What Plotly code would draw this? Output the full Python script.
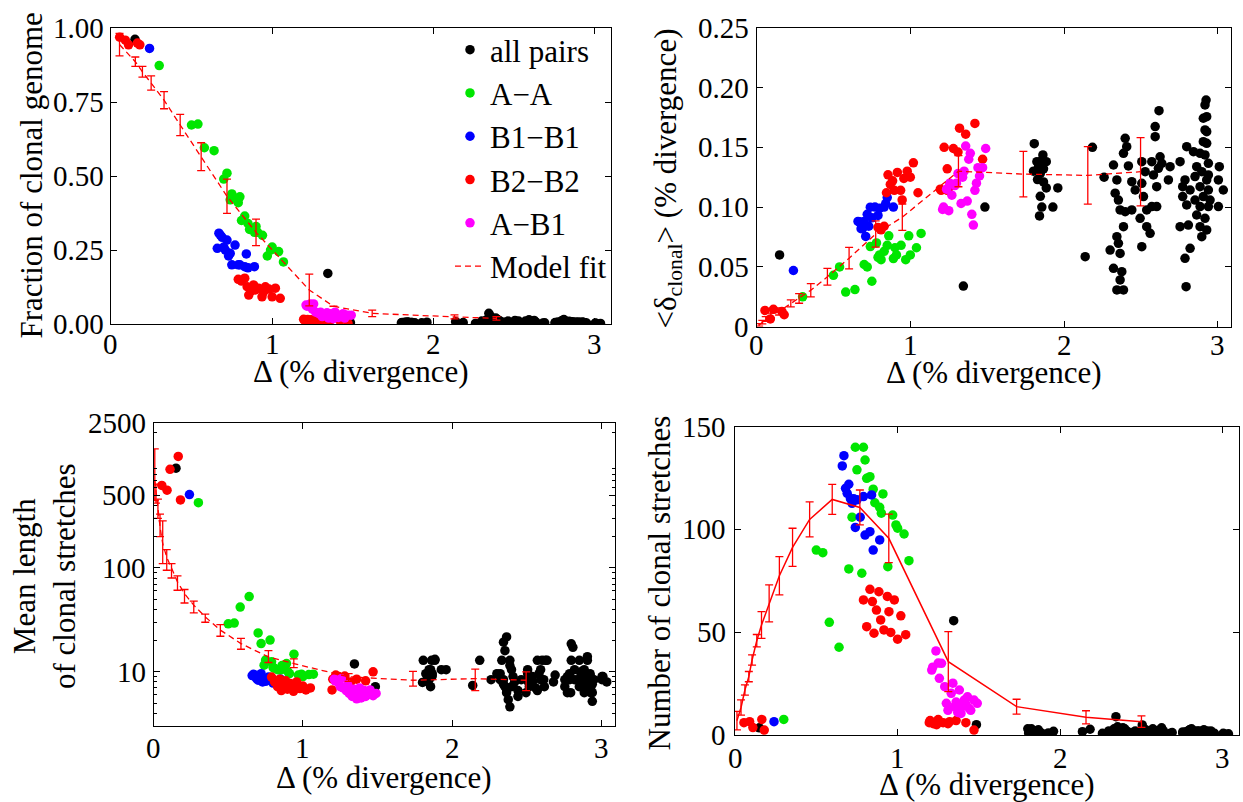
import math
import plotly.graph_objects as go

W, H = 1243, 802
FONT = "Liberation Serif, Times New Roman, Times, serif"

# ---------------- data ----------------
# A-A pairs
green_delta = [0.30, 0.50, 0.54, 0.58, 0.64, 0.70, 0.72, 0.74, 0.75, 0.78, 0.79, 0.80, 0.81,
               0.83, 0.85, 0.86, 0.89, 0.90, 0.91, 0.94, 0.97, 0.99, 1.00, 1.04, 1.07]
green_frac = [0.874, 0.673, 0.676, 0.596, 0.586, 0.49, 0.51, 0.42, 0.44, 0.425, 0.41, 0.43, 0.35,
              0.365, 0.34, 0.32, 0.31, 0.33, 0.31, 0.30, 0.23, 0.25, 0.26, 0.245, 0.21]
green_dclon = [0.025, 0.043, 0.050, 0.029, 0.031, 0.052, 0.050, 0.067, 0.038, 0.070, 0.058, 0.060, 0.056,
               0.063, 0.068, 0.076, 0.057, 0.066, 0.060, 0.068, 0.056, 0.076, 0.060, 0.066, 0.078]
green_len = [425, 29, 29.5, 42, 53, 23.7, 18.7, 11.6, 13, 20.2, 12.5, 11, 10.8,
             10.5, 10.4, 11.5, 12, 10, 9.6, 14.8, 9.3, 9.5, 9.0, 9.4, 9.5]
green_num = [7.6, 90, 88.7, 54.8, 42.7, 80.8, 106, 140, 129, 78.7, 140, 133.8, 124.9,
             125.7, 119.6, 113, 110.8, 107.9, 117.3, 81.9, 107, 102.2, 100.6, 97.8, 84.8]

# B1-B1 pairs
blue_delta = [0.24, 0.66, 0.67, 0.68, 0.69, 0.70, 0.71, 0.72, 0.73, 0.74, 0.75, 0.77, 0.79, 0.80, 0.83, 0.84, 0.85, 0.89]
blue_frac = [0.932, 0.256, 0.307, 0.30, 0.293, 0.26, 0.25, 0.284, 0.23, 0.239, 0.20, 0.267, 0.20, 0.20, 0.194, 0.237, 0.19, 0.194]
blue_dclon = [0.047, 0.088, 0.0877, 0.082, 0.0822, 0.088, 0.0755, 0.094, 0.084, 0.0999, 0.091, 0.100, 0.093, 0.099, 0.100, 0.103, 0.108, 0.100]
blue_len = [508, 9.2, 9.5, 9.0, 8.6, 8.3, 8.8, 9.6, 8.0, 8.4, 8.1, 8.9, 8.2, 7.8, 8.0, 7.6, 8.5, 7.8]
blue_num = [6.5, 130.9, 135.9, 120, 117.6, 122, 115, 112.7, 115, 101, 114.4, 106, 116, 97.3, 98.9, 116.8, 90, 94.9]

# B2-B2 pairs
red_delta = [0.055, 0.09, 0.11, 0.165, 0.18,
             0.79, 0.81, 0.83, 0.845, 0.855, 0.87, 0.885, 0.896, 0.916, 0.937, 0.947, 0.958, 0.98, 1.0, 1.02, 1.05,
             1.195, 1.20, 1.22, 1.24, 1.24, 1.25, 1.28, 1.31, 1.32, 1.36, 1.42, 1.47]
red_frac = [0.97, 0.96, 0.944, 0.95, 0.944,
            0.151, 0.145, 0.155, 0.126, 0.098, 0.112, 0.132, 0.115, 0.121, 0.092, 0.109, 0.126, 0.118, 0.092, 0.121, 0.087,
            0.016, 0.014, 0.015, 0.014, 0.012, 0.013, 0.014, 0.011, 0.011, 0.012, 0.011, 0.002]
red_dclon = [0.0136, 0.0065, 0.0145, 0.0128, 0.010,
             0.083, 0.081, 0.084, 0.112, 0.127, 0.119, 0.122, 0.114, 0.129, 0.114, 0.106, 0.124, 0.130, 0.125, 0.137, 0.112,
             0.115, 0.114, 0.150, 0.132, 0.114, 0.116, 0.149, 0.146, 0.166, 0.161, 0.170, 0.140]
red_len = [623, 560, 889, 1185, 452,
           8.9, 8.0, 7.2, 8.5, 6.6, 7.5, 8.2, 6.8, 7.7, 6.5, 7.4, 8.0, 6.9, 7.3, 6.7, 7.0,
           6.7, 8.5, 9.3, 8.3, 9.0, 8.8, 9.1, 7.5, 8.0, 8.5, 8.2, 10.0]
red_num = [6, 6.5, 3.6, 7.6, 2.4,
           65.7, 52.7, 70.9, 64.9, 49.5, 60.8, 69.7, 56, 51.1, 67.4, 60, 49.9, 65.7, 46.6, 58, 48.8,
           6, 7, 5.5, 6.5, 5, 7.5, 6, 5.5, 6.5, 7, 6, 2.4]

# A-B1 pairs
mag_delta = [1.21, 1.216, 1.236, 1.25, 1.257, 1.27, 1.29, 1.30, 1.31, 1.33, 1.34, 1.35,
             1.36, 1.37, 1.38, 1.39, 1.40, 1.41, 1.42, 1.43, 1.44, 1.45, 1.47, 1.49]
mag_frac = [0.064, 0.06, 0.068, 0.05, 0.068, 0.04, 0.035, 0.04, 0.025, 0.03, 0.038, 0.02,
            0.035, 0.028, 0.018, 0.04, 0.03, 0.022, 0.025, 0.028, 0.035, 0.02, 0.03, 0.03]
mag_dclon = [0.098, 0.100, 0.115, 0.097, 0.120, 0.110, 0.118, 0.120, 0.128, 0.103, 0.125, 0.130,
             0.151, 0.105, 0.140, 0.145, 0.094, 0.085, 0.114, 0.120, 0.133, 0.126, 0.133, 0.149]
mag_len = [8.5, 8.2, 7.9, 7.2, 8.6, 7.0, 6.6, 7.5, 6.2, 5.8, 6.8, 6.0,
           5.5, 6.4, 7.0, 5.6, 6.2, 6.6, 5.8, 6.0, 6.4, 6.7, 5.9, 6.2]
mag_num = [31.6, 33, 40.9, 35, 27.6, 34.9, 23.5, 15.4, 12, 20.3, 25.2, 13.8,
           16, 11, 21.9, 10.5, 14, 17, 15, 18.6, 13, 12, 17, 15.4]

# all pairs
black_delta = [0.15, 1.345, 1.485,
               1.806, 1.862, 1.823, 1.855, 1.884, 1.834, 1.866, 1.801, 1.845, 1.827, 1.866, 1.884, 1.845, 1.855, 1.840, 1.927, 1.959,
               2.137, 2.184, 2.26,
               2.321, 2.343, 2.332, 2.353, 2.364, 2.386, 2.343, 2.353, 2.299, 2.364, 2.321, 2.375, 2.364, 2.343, 2.386,
               2.397, 2.407, 2.386, 2.418, 2.440, 2.462, 2.440, 2.397,
               2.505, 2.527, 2.505, 2.516, 2.537, 2.494, 2.537, 2.559, 2.505,
               2.570, 2.581, 2.602, 2.613, 2.624, 2.592, 2.592, 2.617, 2.635, 2.570, 2.602, 2.689, 2.678,
               2.754, 2.786, 2.771, 2.797, 2.808, 2.754, 2.786, 2.819, 2.793, 2.771, 2.797, 2.841,
               2.923, 2.916, 2.927, 2.905, 2.916, 2.927, 2.905, 2.927, 2.884, 2.916, 2.938, 2.862, 2.895, 2.938,
               2.851, 2.927, 2.884, 2.938, 2.819, 2.905, 2.851, 2.949, 2.884, 2.938, 2.862, 2.916, 2.884, 2.927, 2.895,
               3.009, 3.003, 3.035, 3.003]
black_frac = [0.963, 0.171, 0.005,
              0.005, 0.003, 0.006, 0.004, 0.002, 0.007, 0.005, 0.004, 0.006, 0.003, 0.005, 0.004, 0.006, 0.003, 0.005, 0.004, 0.006,
              0.008, 0.005, 0.002,
              0.010, 0.036, 0.015, 0.027, 0.012, 0.020, 0.008, 0.005, 0.010, 0.004, 0.006, 0.003, 0.002, 0.004, 0.003,
              0.015, 0.012, 0.018, 0.008, 0.006, 0.010, 0.005, 0.007,
              0.012, 0.010, 0.008, 0.006, 0.004, 0.005, 0.003, 0.004, 0.003,
              0.010, 0.008, 0.006, 0.009, 0.012, 0.014, 0.010, 0.008, 0.006, 0.004, 0.005, 0.004, 0.003,
              0.004, 0.006, 0.003, 0.010, 0.015, 0.005, 0.004, 0.008, 0.003, 0.007, 0.012, 0.009,
              0.006, 0.004, 0.005, 0.007, 0.003, 0.006, 0.004, 0.005, 0.006, 0.003, 0.004, 0.008, 0.005, 0.003,
              0.007, 0.004, 0.006, 0.002, 0.009, 0.004, 0.006, 0.003, 0.005, 0.004, 0.006, 0.003, 0.004, 0.002, 0.005,
              0.002, 0.003, 0.002, 0.002]
black_dclon = [0.060, 0.034, 0.100,
               0.153, 0.1436, 0.138, 0.139, 0.138, 0.134, 0.132, 0.130, 0.128, 0.123, 0.121, 0.116, 0.109, 0.100, 0.0926, 0.100, 0.116,
               0.0585, 0.150, 0.125,
               0.1352, 0.1227, 0.1116, 0.1059, 0.0976, 0.0836, 0.0753, 0.0697, 0.0641, 0.0613, 0.0488, 0.0460, 0.0391, 0.0307, 0.0307,
               0.1575, 0.1505, 0.1450, 0.1344, 0.1213, 0.1143, 0.0976, 0.0962,
               0.1380, 0.1296, 0.1199, 0.1088, 0.0976, 0.0906, 0.0836, 0.0781, 0.0669,
               0.1380, 0.1269, 0.1171, 0.1324, 0.1421, 0.1589, 0.1673, 0.1806, 0.1366, 0.1004, 0.1004, 0.1338, 0.1227,
               0.1380, 0.1227, 0.1088, 0.1018, 0.0850, 0.0836, 0.0572, 0.0655, 0.0335, 0.1171, 0.1505, 0.1463,
               0.1895, 0.1854, 0.1756, 0.1743, 0.1645, 0.1631, 0.1547, 0.1533, 0.1450, 0.1436, 0.1366, 0.1338, 0.1296, 0.1269,
               0.1255, 0.1227, 0.1171, 0.1143, 0.1143, 0.1088, 0.1059, 0.1059, 0.1004, 0.1004, 0.0934, 0.0906, 0.0836, 0.0809, 0.0753,
               0.1338, 0.1227, 0.1143, 0.1004]
black_len = [913, 11.9, 7.2,
             12.9, 12.9, 9.6, 10.5, 13.2, 8.7, 9.6, 7.9, 10.5, 8.1, 9.1, 12.9, 8.4, 7.2, 9.0, 10.5, 10.5,
             7.4, 12.9, 8.4,
             9.6, 19.3, 12.9, 16.0, 21.7, 12.9, 8.4, 7.2, 9.6, 6.3, 8.4, 5.4, 6.8, 7.6, 4.6,
             10.5, 9.0, 11.5, 8.0, 6.6, 8.4, 5.8, 7.2,
             9.6, 8.4, 10.5, 7.2, 8.0, 6.3, 9.0, 7.0, 8.2,
             12.9, 9.6, 12.9, 8.4, 12.9, 10.5, 8.4, 7.2, 12.9, 6.6, 8.4, 9.3, 8.0,
             8.4, 9.6, 6.3, 18.6, 17.2, 7.2, 8.4, 10.5, 6.3, 9.0, 12.9, 8.4,
             9.6, 8.4, 7.2, 14.0, 9.0, 6.3, 12.9, 8.0, 10.5, 7.6, 8.4, 9.6, 7.2, 5.2,
             12.9, 9.0, 8.4, 6.3, 8.4, 8.8, 7.2, 8.4, 6.3, 7.6, 10.0, 8.0, 9.4, 6.8, 8.4,
             9.0, 8.4, 8.0, 9.0]
black_num = [3.5, 55.6, 5,
             1, 2, 3, 1, 0.5, 2, 1.5, 3, 1, 0.5, 2.5, 1, 2, 0.8, 1.5, 1, 1.8,
             1.6, 2.8, 0.8,
             2, 8.9, 3, 4, 1, 2.5, 1.5, 0.5, 2, 1, 0.5, 1, 0.3, 0.8, 0.5,
             3, 2, 3.5, 1.5, 1, 2, 0.8, 1.2,
             3, 2.5, 4.9, 1, 1.5, 0.8, 2, 1, 0.6,
             3, 2, 1.5, 2.5, 3.5, 2, 1.5, 1, 2, 0.5, 1, 1.2, 0.8,
             1, 2, 0.5, 2.5, 3, 1.5, 1, 2, 0.5, 1.5, 2.5, 2,
             1.5, 1, 2, 1.5, 0.5, 1, 2, 1.2, 2.5, 0.8, 1, 1.8, 1.2, 0.6,
             2, 1, 1.5, 0.4, 2, 1, 1.5, 0.8, 1, 0.5, 1.2, 0.6, 1, 0.4, 0.8,
             0.5, 0.8, 0.6, 0.4]

# model fits
fit_frac_delta = [0.054, 0.152, 0.196, 0.25, 0.33, 0.43, 0.56, 0.72, 0.90, 1.23, 1.38, 1.62, 2.13, 2.39]
fit_frac = [0.945, 0.887, 0.853, 0.815, 0.757, 0.673, 0.566, 0.432, 0.31, 0.115, 0.06, 0.036, 0.024, 0.019]
fit_frac_err = [0.038, 0.016, 0.018, 0.024, 0.029, 0.036, 0.047, 0.058, 0.045, 0.054, None, 0.011, 0.007, 0.006]

fit_dclon_delta = [0.017, 0.038, 0.06, 0.093, 0.147, 0.223, 0.277, 0.353, 0.461, 0.602, 0.775, 0.948, 1.313, 1.735, 2.154, 2.497]
fit_dclon = [0.0015, 0.0038, 0.0065, 0.0094, 0.0128, 0.0195, 0.0236, 0.0305, 0.0417, 0.0573, 0.0775, 0.0916, 0.130, 0.1276, 0.1265, 0.1296]
fit_dclon_err = [0.001, 0.0015, 0.002, 0.002, 0.003, 0.003, 0.004, 0.0055, 0.007, 0.009, 0.011, 0.011, 0.013, 0.019, 0.024, 0.0285]

fit_len_delta = [0.008, 0.016, 0.029, 0.043, 0.061, 0.088, 0.12, 0.16, 0.207, 0.269, 0.346, 0.447, 0.585, 0.769, 0.939, 1.306, 1.737, 2.154, 2.495]
fit_len = [700, 520, 380, 250, 171, 127, 98.6, 73.5, 56.6, 43.8, 33.8, 25.2, 18.7, 13.9, 12.0, 8.95, 8.3, 8.6, 8.3]
fit_len_hi = [1400, 640, 460, 330, 284, 150, 110, 84, 62, 48, 36, 28.5, 21, 16, 13.3, 9.6, 10.1, 10.6, 10.0]
fit_len_lo = [445, 420, 300, 200, 110, 95, 80, 61, 46, 37, 30, 22, 16.5, 12.3, 11, 8.1, 7.3, 6.6, 6.6]

fit_num_delta = [0.012, 0.037, 0.061, 0.085, 0.105, 0.134, 0.163, 0.21, 0.273, 0.354, 0.459, 0.598, 0.768, 0.946, 1.312, 1.732, 2.159, 2.5]
fit_num = [7, 13.4, 21.9, 28.4, 36.5, 45.9, 53.5, 64, 77.5, 91.3, 104.9, 114.6, 110.7, 95.7, 35.7, 13.8, 8.6, 6.5]
fit_num_err = [4.5, 3.7, 2.5, 2.5, 2.5, 3, 6.5, 9, 9.3, 9.3, 8.5, 7.3, 8.5, 11.8, 14.6, 3.6, 3.2, 2.8]

# tick labels
frac_ticks = [0, 0.25, 0.5, 0.75, 1.0]
frac_ticktext = ["0.00", "0.25", "0.50", "0.75", "1.00"]
dclon_ticks = [0, 0.05, 0.10, 0.15, 0.20, 0.25]
dclon_ticktext = ["0", "0.05", "0.10", "0.15", "0.20", "0.25"]
len_ticks = [10, 100, 500, 2500]
len_ticktext = ["10", "100", "500", "2500"]
len_minor = [3, 4, 5, 6, 7, 8, 9, 20, 30, 40, 50, 60, 70, 80, 90, 200, 300, 400, 600, 700, 800, 900, 2000]
num_ticks = [0, 50, 100, 150]
num_ticktext = ["0", "50", "100", "150"]
delta_ticks = [0, 1, 2, 3]
delta_ticktext = ["0", "1", "2", "3"]

# ---------------- figure ----------------
groups = [
    ("all pairs", "#000000", black_delta, [black_frac, black_dclon, black_len, black_num]),
    ("A\u2212A", "#00e600", green_delta, [green_frac, green_dclon, green_len, green_num]),
    ("B1\u2212B1", "#0000ff", blue_delta, [blue_frac, blue_dclon, blue_len, blue_num]),
    ("B2\u2212B2", "#ff0000", red_delta, [red_frac, red_dclon, red_len, red_num]),
    ("A\u2212B1", "#ff00ff", mag_delta, [mag_frac, mag_dclon, mag_len, mag_num]),
]

fig = go.Figure()

def ax(i):
    return ("x" if i == 1 else f"x{i}"), ("y" if i == 1 else f"y{i}")

for i in range(1, 5):
    xa, ya = ax(i)
    for name, color, dx, metrics in groups:
        fig.add_trace(go.Scatter(
            x=dx, y=metrics[i - 1], mode="markers", name=name,
            marker=dict(color=color, size=9.5, line=dict(width=0)),
            xaxis=xa, yaxis=ya, showlegend=(i == 1), legendgroup=name))
    errc = dict(color="#ff0000", thickness=1.3, width=4)
    if i == 1:
        fig.add_trace(go.Scatter(
            x=fit_frac_delta, y=fit_frac, mode="lines", name="Model fit",
            line=dict(color="#ff0000", width=1.3, dash="6px,4px"),
            error_y=dict(type="data", array=fit_frac_err, **errc),
            xaxis=xa, yaxis=ya, showlegend=True))
    elif i == 2:
        fig.add_trace(go.Scatter(
            x=fit_dclon_delta, y=fit_dclon, mode="lines", name="Model fit",
            line=dict(color="#ff0000", width=1.3, dash="6px,4px"),
            error_y=dict(type="data", array=fit_dclon_err, **errc),
            xaxis=xa, yaxis=ya, showlegend=False))
    elif i == 3:
        plus = [h - m for h, m in zip(fit_len_hi, fit_len)]
        minus = [m - l for m, l in zip(fit_len, fit_len_lo)]
        fig.add_trace(go.Scatter(
            x=fit_len_delta, y=fit_len, mode="lines", name="Model fit",
            line=dict(color="#ff0000", width=1.3, dash="6px,4px"),
            error_y=dict(type="data", symmetric=False, array=plus, arrayminus=minus, **errc),
            xaxis=xa, yaxis=ya, showlegend=False))
    else:
        fig.add_trace(go.Scatter(
            x=fit_num_delta, y=fit_num, mode="lines", name="Model fit",
            line=dict(color="#ff0000", width=1.5),
            error_y=dict(type="data", array=fit_num_err, **errc),
            xaxis=xa, yaxis=ya, showlegend=False))

# frame positions in pixels: (left, right, top, bottom)
frames = {
    1: (110.8, 611, 28.3, 324),
    2: (756.5, 1231, 27.7, 326.7),
    3: (153.6, 615, 422.7, 725.7),
    4: (735, 1239, 426.7, 735),
}
xranges = {1: [0, 3.1], 2: [0, 3.085], 3: [0, 3.09], 4: [0, 3.1]}
common = dict(showline=True, linecolor="black", linewidth=1, mirror="allticks",
              ticks="inside", ticklen=6, tickcolor="black", showgrid=False,
              zeroline=False, showticklabels=False)

layout = {}
for i in range(1, 5):
    l, r, t, b = frames[i]
    xk = "xaxis" if i == 1 else f"xaxis{i}"
    yk = "yaxis" if i == 1 else f"yaxis{i}"
    xa, ya = ax(i)
    layout[xk] = dict(domain=[l / W, r / W], range=xranges[i], anchor=ya,
                      tickvals=delta_ticks, **common)
    layout[yk] = dict(domain=[1 - b / H, 1 - t / H], anchor=xa, **common)

layout["yaxis"].update(range=[0, 1], tickvals=frac_ticks)
layout["yaxis2"].update(range=[0, 0.25], tickvals=dclon_ticks)
layout["yaxis3"].update(type="log", range=[0.4815, 3.398], tickvals=len_ticks,
                        minor=dict(tickvals=len_minor, ticks="inside", ticklen=3, tickcolor="black"))
layout["yaxis4"].update(range=[0, 150], tickvals=num_ticks)

tickfont = dict(family=FONT, size=29, color="black")
tfont = dict(family=FONT, size=31, color="black")
annotations = []

# tick labels (placed with the axes' own data coordinates)
xlabel_y = {1: 344, 2: 345, 3: 748, 4: 758}
ylabel_gap = {1: 5, 2: 6, 3: 6, 4: 7}
yticks = {1: (frac_ticks, frac_ticktext, False), 2: (dclon_ticks, dclon_ticktext, False),
          3: (len_ticks, len_ticktext, True), 4: (num_ticks, num_ticktext, False)}
for i in range(1, 5):
    xa, ya = ax(i)
    for v, s in zip(delta_ticks, delta_ticktext):
        annotations.append(dict(text=s, x=v, xref=xa, y=1 - xlabel_y[i] / H, yref="paper",
                                showarrow=False, xanchor="center", yanchor="middle", font=tickfont))
    vals, txts, islog = yticks[i]
    for v, s in zip(vals, txts):
        annotations.append(dict(text=s, x=(frames[i][0] - ylabel_gap[i]) / W, xref="paper",
                                y=(math.log10(v) if islog else v), yref=ya,
                                showarrow=False, xanchor="right", yanchor="middle", font=tickfont))

xtitle_pos = [(360.9, 371), (993.7, 373), (384.3, 777), (987, 784)]
for (xp, yp) in xtitle_pos:
    annotations.append(dict(text="\u0394 (% divergence)", x=xp / W, y=1 - yp / H, xref="paper", yref="paper",
                            showarrow=False, xanchor="center", yanchor="middle", font=tfont))
ytitles = [
    ("Fraction of clonal genome", 30.5, 176),
    ("&lt;\u03b4<sub>clonal</sub>&gt; (% divergence)", 667, 178.5),
    ("Mean length<br>of clonal stretches", 44, 576),
    ("Number of clonal stretches", 658.5, 583),
]
for txt, xp, yp in ytitles:
    annotations.append(dict(text=txt, x=xp / W, y=1 - yp / H, xref="paper", yref="paper",
                            showarrow=False, xanchor="center", yanchor="middle", textangle=-90, font=tfont))

fig.update_layout(
    width=W, height=H, margin=dict(l=0, r=0, t=0, b=0),
    paper_bgcolor="white", plot_bgcolor="white",
    font=dict(family=FONT, size=30, color="black"),
    legend=dict(x=450 / W, y=1 - 23 / H, xanchor="left", yanchor="top", font=tfont,
                bgcolor="rgba(0,0,0,0)", borderwidth=0, itemwidth=30, tracegroupgap=0),
    annotations=annotations,
    **layout,
)

fig.write_html("out.html", config={"displayModeBar": False},
               post_script="document.body.style.margin='0px';document.body.style.overflow='hidden';")
